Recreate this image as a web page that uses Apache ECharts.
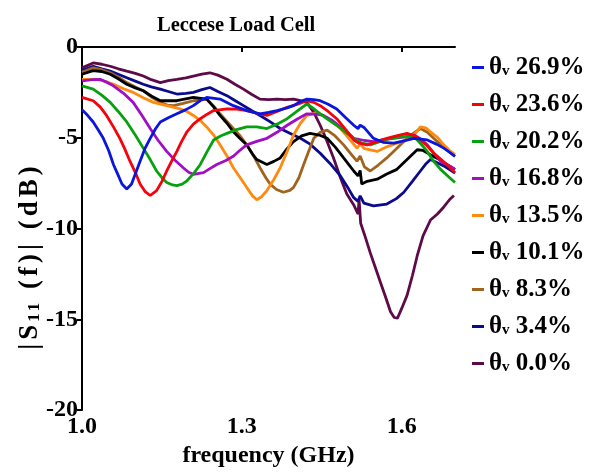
<!DOCTYPE html>
<html>
<head>
<meta charset="utf-8">
<script src="https://cdn.jsdelivr.net/npm/echarts@6/dist/echarts.min.js"></script>
<style>
  html, body { margin: 0; padding: 0; background: #fff; overflow: hidden; }
  #chart { width: 596px; height: 473px; }
</style>
</head>
<body>
<div id="chart"></div>
<script>
// 数据: [频率 GHz, |S11| dB]
var xTicks = [1.0, 1.3, 1.6];
var yTicks = [0, -5, -10, -15, -20];
var names = ['26.9%', '23.6%', '20.2%', '16.8%', '13.5%', '10.1%', '8.3%', '3.4%', '0.0%'];
var colors = ['#0a16dc', '#f5020a', '#07a00f', '#a010c0', '#ff8a10', '#000000', '#a0641e', '#0a0a8a', '#5e0a48'];

var s269 = [[1.000,-3.46],[1.010,-3.75],[1.021,-4.13],[1.030,-4.55],[1.040,-5.03],[1.050,-5.7],[1.059,-6.47],[1.067,-7.0],[1.075,-7.55],[1.084,-7.82],[1.093,-7.55],[1.100,-7.0],[1.109,-6.29],[1.118,-5.6],[1.128,-5.03],[1.138,-4.5],[1.147,-4.13],[1.162,-3.9],[1.178,-3.68],[1.195,-3.45],[1.209,-3.23],[1.222,-2.95],[1.234,-2.78],[1.259,-2.87],[1.284,-3.23],[1.309,-3.5],[1.334,-3.68],[1.350,-3.6],[1.366,-3.5],[1.385,-3.35],[1.397,-3.23],[1.410,-3.0],[1.422,-2.87],[1.435,-2.9],[1.447,-2.96],[1.462,-3.15],[1.478,-3.41],[1.495,-3.9],[1.510,-4.31],[1.518,-4.5],[1.522,-4.3],[1.530,-4.45],[1.547,-5.03],[1.565,-5.25],[1.585,-5.3],[1.600,-5.2],[1.623,-5.03],[1.648,-5.12],[1.665,-5.35],[1.679,-5.57],[1.690,-5.8],[1.700,-6.02]];
var s236 = [[1.000,-2.77],[1.021,-2.96],[1.034,-3.3],[1.046,-3.77],[1.059,-4.4],[1.071,-5.03],[1.080,-5.6],[1.090,-6.29],[1.100,-6.9],[1.109,-7.55],[1.118,-7.95],[1.128,-8.18],[1.140,-7.91],[1.150,-7.4],[1.159,-6.83],[1.168,-6.3],[1.178,-5.75],[1.187,-5.2],[1.197,-4.67],[1.209,-4.25],[1.222,-3.95],[1.235,-3.7],[1.247,-3.5],[1.272,-3.41],[1.290,-3.42],[1.309,-3.5],[1.328,-3.65],[1.347,-3.77],[1.366,-3.55],[1.385,-3.32],[1.405,-3.15],[1.422,-2.96],[1.435,-3.05],[1.447,-3.23],[1.462,-3.55],[1.478,-3.95],[1.495,-4.55],[1.510,-5.12],[1.520,-5.3],[1.535,-5.39],[1.555,-5.2],[1.572,-5.03],[1.590,-4.9],[1.610,-4.76],[1.625,-4.9],[1.635,-5.12],[1.648,-5.45],[1.660,-5.84],[1.680,-6.35],[1.700,-6.92]];
var s202 = [[1.000,-2.14],[1.021,-2.32],[1.037,-2.65],[1.053,-3.05],[1.068,-3.55],[1.084,-4.13],[1.100,-4.85],[1.115,-5.57],[1.128,-6.2],[1.140,-6.83],[1.150,-7.2],[1.159,-7.46],[1.170,-7.6],[1.178,-7.64],[1.188,-7.55],[1.197,-7.37],[1.210,-6.95],[1.222,-6.47],[1.235,-5.75],[1.247,-5.12],[1.260,-4.9],[1.272,-4.76],[1.290,-4.55],[1.309,-4.4],[1.328,-4.4],[1.347,-4.49],[1.366,-4.25],[1.385,-3.95],[1.405,-3.5],[1.422,-3.14],[1.435,-3.4],[1.447,-3.68],[1.462,-4.0],[1.478,-4.31],[1.495,-4.7],[1.510,-5.03],[1.525,-5.3],[1.541,-5.39],[1.560,-5.2],[1.578,-5.03],[1.600,-4.95],[1.623,-4.94],[1.635,-5.3],[1.648,-5.75],[1.660,-6.3],[1.673,-6.74],[1.690,-7.2],[1.700,-7.46]];
var s168 = [[1.000,-1.87],[1.020,-1.8],[1.034,-1.78],[1.047,-1.95],[1.059,-2.14],[1.078,-2.55],[1.096,-3.05],[1.112,-3.75],[1.128,-4.49],[1.143,-5.15],[1.159,-5.75],[1.175,-6.25],[1.190,-6.65],[1.200,-6.9],[1.209,-7.01],[1.228,-6.92],[1.240,-6.7],[1.253,-6.47],[1.270,-6.25],[1.284,-6.02],[1.296,-5.7],[1.309,-5.39],[1.328,-5.2],[1.347,-5.03],[1.366,-4.7],[1.385,-4.31],[1.405,-3.95],[1.422,-3.68],[1.440,-3.7],[1.453,-3.77],[1.470,-4.05],[1.485,-4.4],[1.500,-4.75],[1.510,-5.03],[1.530,-5.15],[1.547,-5.21],[1.565,-5.1],[1.585,-5.03],[1.605,-4.95],[1.623,-4.85],[1.635,-5.05],[1.648,-5.39],[1.660,-5.85],[1.673,-6.29],[1.690,-6.55],[1.700,-6.74]];
var s135 = [[1.000,-1.78],[1.027,-1.78],[1.045,-1.9],[1.059,-2.05],[1.078,-2.3],[1.096,-2.5],[1.115,-2.8],[1.134,-3.05],[1.159,-3.23],[1.184,-3.41],[1.197,-3.55],[1.209,-3.77],[1.222,-4.05],[1.234,-4.4],[1.247,-4.85],[1.259,-5.39],[1.272,-6.0],[1.284,-6.65],[1.297,-7.2],[1.309,-7.73],[1.320,-8.2],[1.328,-8.41],[1.337,-8.25],[1.347,-7.91],[1.360,-7.3],[1.372,-6.65],[1.385,-5.75],[1.397,-4.85],[1.410,-4.2],[1.422,-3.77],[1.435,-3.65],[1.447,-3.68],[1.465,-4.0],[1.485,-4.49],[1.500,-5.0],[1.516,-5.57],[1.522,-5.35],[1.530,-5.6],[1.554,-5.75],[1.572,-5.5],[1.591,-5.3],[1.610,-5.1],[1.623,-4.85],[1.635,-4.4],[1.645,-4.45],[1.654,-4.67],[1.668,-5.0],[1.679,-5.39],[1.690,-5.7],[1.700,-5.93]];
var s101 = [[1.000,-1.5],[1.021,-1.3],[1.037,-1.35],[1.053,-1.5],[1.068,-1.75],[1.084,-2.05],[1.100,-2.25],[1.115,-2.41],[1.130,-2.7],[1.147,-2.96],[1.178,-2.96],[1.209,-2.78],[1.234,-2.87],[1.247,-3.3],[1.259,-3.77],[1.272,-4.2],[1.284,-4.67],[1.297,-5.05],[1.309,-5.39],[1.320,-5.9],[1.328,-6.2],[1.347,-6.47],[1.360,-6.3],[1.372,-6.11],[1.385,-5.6],[1.397,-5.21],[1.412,-4.9],[1.428,-4.76],[1.445,-4.85],[1.460,-5.03],[1.475,-5.5],[1.491,-6.11],[1.500,-6.45],[1.510,-6.83],[1.518,-7.1],[1.522,-6.8],[1.525,-7.55],[1.535,-7.4],[1.554,-7.28],[1.572,-7.0],[1.591,-6.74],[1.610,-6.2],[1.629,-5.66],[1.640,-5.7],[1.654,-5.93],[1.668,-6.15],[1.679,-6.38],[1.700,-6.74]];
var s83 = [[1.000,-1.4],[1.021,-1.15],[1.037,-1.25],[1.053,-1.42],[1.068,-1.65],[1.084,-1.96],[1.100,-2.2],[1.115,-2.41],[1.130,-2.75],[1.147,-3.05],[1.160,-3.2],[1.172,-3.23],[1.190,-3.1],[1.209,-2.96],[1.234,-2.87],[1.247,-3.25],[1.259,-3.68],[1.272,-4.1],[1.284,-4.49],[1.297,-4.9],[1.309,-5.39],[1.322,-6.0],[1.334,-6.65],[1.345,-7.2],[1.353,-7.55],[1.365,-7.85],[1.378,-8.0],[1.390,-7.9],[1.397,-7.73],[1.407,-7.2],[1.416,-6.47],[1.426,-5.7],[1.435,-5.03],[1.447,-4.7],[1.460,-4.58],[1.475,-4.9],[1.491,-5.39],[1.505,-5.9],[1.516,-6.29],[1.522,-6.0],[1.530,-6.6],[1.541,-6.83],[1.556,-6.5],[1.572,-6.11],[1.590,-5.6],[1.604,-5.21],[1.620,-4.8],[1.635,-4.49],[1.648,-4.7],[1.660,-5.03],[1.672,-5.35],[1.685,-5.66],[1.700,-6.02]];
var s34 = [[1.000,-1.3],[1.021,-1.06],[1.037,-1.2],[1.053,-1.33],[1.068,-1.5],[1.084,-1.69],[1.100,-1.88],[1.115,-2.05],[1.130,-2.2],[1.147,-2.32],[1.162,-2.45],[1.178,-2.59],[1.195,-2.55],[1.209,-2.5],[1.225,-2.35],[1.240,-2.23],[1.255,-2.45],[1.272,-2.68],[1.287,-2.95],[1.303,-3.23],[1.318,-3.5],[1.334,-3.77],[1.352,-4.1],[1.372,-4.49],[1.390,-4.75],[1.410,-5.03],[1.428,-5.35],[1.447,-5.85],[1.465,-6.4],[1.485,-7.1],[1.500,-7.8],[1.510,-8.3],[1.518,-8.5],[1.522,-8.2],[1.529,-8.6],[1.547,-8.75],[1.572,-8.65],[1.590,-8.35],[1.604,-8.0],[1.620,-7.4],[1.635,-6.83],[1.645,-6.45],[1.654,-6.2],[1.665,-6.35],[1.679,-6.55],[1.700,-6.95]];
var s00 = [[1.000,-1.15],[1.021,-0.88],[1.037,-0.95],[1.053,-1.06],[1.068,-1.2],[1.084,-1.33],[1.100,-1.45],[1.115,-1.6],[1.130,-1.8],[1.147,-1.96],[1.162,-1.85],[1.178,-1.78],[1.195,-1.7],[1.209,-1.6],[1.225,-1.5],[1.240,-1.42],[1.255,-1.55],[1.272,-1.78],[1.287,-2.05],[1.303,-2.32],[1.318,-2.6],[1.334,-2.87],[1.350,-2.9],[1.366,-2.87],[1.382,-2.9],[1.397,-2.87],[1.410,-2.95],[1.422,-3.05],[1.435,-3.6],[1.447,-4.31],[1.460,-5.2],[1.472,-6.11],[1.485,-7.2],[1.497,-8.1],[1.510,-8.7],[1.518,-9.2],[1.520,-8.4],[1.523,-9.71],[1.532,-10.5],[1.541,-11.34],[1.550,-12.1],[1.560,-12.96],[1.570,-13.8],[1.579,-14.58],[1.586,-14.9],[1.592,-14.94],[1.600,-14.4],[1.610,-13.68],[1.620,-12.6],[1.629,-11.51],[1.640,-10.4],[1.654,-9.53],[1.667,-9.2],[1.679,-8.81],[1.690,-8.4],[1.698,-8.18]];

var allData = [s269, s236, s202, s168, s135, s101, s83, s34, s00];

var font = 'Liberation Serif';

var myChart = echarts.init(document.getElementById('chart'));

var series = [];
for (var i = allData.length - 1; i >= 0; i--) {
    series.push({
        name: names[i],
        type: 'line',
        data: allData[i],
        showSymbol: false,
        smooth: false,
        lineStyle: { width: 2.8, color: colors[i] },
        itemStyle: { color: colors[i] }
    });
}

// y轴标题: 逐字加间距, 下标 11
function spaced(str, key) {
    return str.split('').map(function (c) { return '{' + key + '|' + c + '}'; }).join('');
}
var yName = spaced('|S', 'a') + spaced('11', 's') + spaced(' (f)| (dB)', 'a');

var option = {
    animation: false,
    title: {
        text: 'Leccese Load Cell',
        left: 152,
        top: 10,
        textStyle: { fontFamily: font, fontWeight: 'bold', fontSize: 20.5, color: '#000' }
    },
    legend: {
        orient: 'vertical',
        left: 467,
        top: 50,
        icon: 'rect',
        itemWidth: 12,
        itemHeight: 3,
        itemGap: 12,
        data: names,
        formatter: function (n) { return '{t|θ}{v|v}{n| ' + n + '}'; },
        textStyle: {
            color: '#000',
            rich: {
                t: { fontFamily: font, fontWeight: 'bold', fontSize: 25, lineHeight: 23 },
                v: { fontFamily: font, fontWeight: 'bold', fontSize: 15, lineHeight: 6, verticalAlign: 'bottom' },
                n: { fontFamily: font, fontWeight: 'bold', fontSize: 25, lineHeight: 23 }
            }
        }
    },
    grid: { left: 82, top: 47, width: 373, height: 370 },
    xAxis: {
        type: 'value',
        min: xTicks[0],
        max: 1.7,
        interval: 0.3,
        splitLine: { show: false },
        axisLine: { lineStyle: { color: '#000', width: 2 } },
        axisTick: { length: 5, customValues: xTicks, lineStyle: { color: '#000', width: 2 } },
        axisLabel: {
            margin: 5,
            customValues: xTicks,
            color: '#000',
            fontFamily: font,
            fontWeight: 'bold',
            fontSize: 24,
            formatter: function (v) { return v.toFixed(1); }
        },
        name: 'frequency (GHz)',
        nameLocation: 'middle',
        nameGap: 29,
        nameTextStyle: { color: '#000', fontFamily: font, fontWeight: 'bold', fontSize: 24 }
    },
    yAxis: {
        type: 'value',
        min: yTicks[yTicks.length - 1],
        max: yTicks[0],
        interval: 5,
        splitLine: { show: false },
        axisLine: { show: true, lineStyle: { color: '#000', width: 2 } },
        axisTick: { show: true, length: 5, lineStyle: { color: '#000', width: 2 } },
        axisLabel: {
            margin: 4,
            color: '#000',
            fontFamily: font,
            fontWeight: 'bold',
            fontSize: 24
        }
    },
    graphic: [{
        type: 'text',
        x: 30,
        y: 258,
        rotation: Math.PI / 2,
        style: {
            text: yName,
            align: 'center',
            verticalAlign: 'middle',
            fill: '#000',
            rich: {
                a: { fontFamily: font, fontWeight: 'bold', fontSize: 27, lineHeight: 27, padding: [0, 2, 0, 2] },
                s: { fontFamily: font, fontWeight: 'bold', fontSize: 17, lineHeight: 6, verticalAlign: 'bottom', padding: [0, 1, 0, 1] }
            }
        }
    }],
    series: series
};

myChart.setOption(option);
</script>
</body>
</html>
